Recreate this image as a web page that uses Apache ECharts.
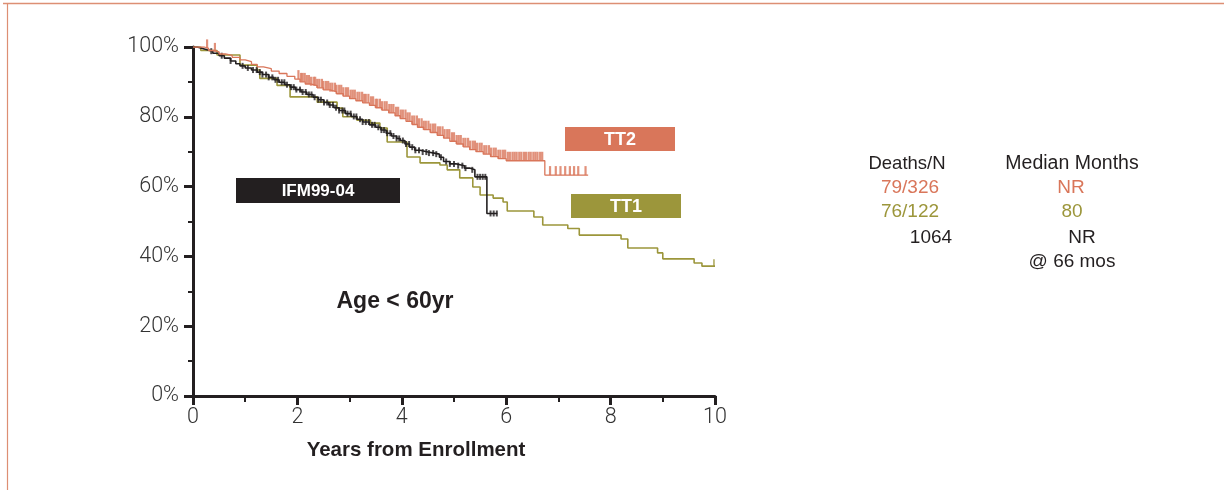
<!DOCTYPE html>
<html><head><meta charset="utf-8">
<script src="https://cdn.jsdelivr.net/npm/echarts@6/dist/echarts.min.js"></script>
<style>html,body{margin:0;padding:0;background:#fff}#c{width:1224px;height:490px}</style>
</head><body><div id="c"></div>
<script>
// ---- data ----
const yTickValues = [0, 20, 40, 60, 80, 100];
const xTickValues = [0, 2, 4, 6, 8, 10];

const tt2Times = [0, 0.22, 0.3, 0.4, 0.5, 0.62, 0.75, 0.9, 1.0, 1.12, 1.23, 1.35, 1.5, 1.65, 1.8, 1.95, 2.05, 2.15, 2.25, 2.38, 2.5, 2.62, 2.75, 2.88, 3.0, 3.12, 3.25, 3.38, 3.5, 3.62, 3.75, 3.87, 3.97, 4.08, 4.2, 4.3, 4.42, 4.55, 4.68, 4.8, 4.92, 5.05, 5.18, 5.3, 5.42, 5.56, 5.7, 5.85, 6.0, 6.74, 7.57];
const tt2Surv  = [100, 99.6, 99.0, 98.6, 98.0, 97.6, 97.0, 96.3, 95.8, 95.0, 94.3, 93.8, 93.1, 92.4, 91.6, 90.8, 90.0, 89.4, 88.9, 88.3, 87.7, 87.2, 86.6, 85.9, 85.2, 84.6, 84.0, 83.3, 82.6, 81.9, 81.1, 80.3, 79.5, 78.7, 77.8, 77.0, 76.3, 75.5, 74.7, 73.9, 73.0, 72.2, 71.4, 70.6, 70.0, 69.3, 68.6, 68.0, 67.4, 63.3, 63.3];
const tt2Censor = [0.27, 0.42, 2.02, 2.07, 2.1, 2.14, 2.18, 2.22, 2.26, 2.31, 2.34, 2.38, 2.42, 2.47, 2.5, 2.55, 2.59, 2.63, 2.67, 2.72, 2.75, 2.8, 2.84, 2.88, 2.93, 2.97, 3.02, 3.06, 3.1, 3.15, 3.19, 3.24, 3.28, 3.31, 3.36, 3.41, 3.45, 3.5, 3.53, 3.58, 3.62, 3.67, 3.71, 3.76, 3.8, 3.84, 3.89, 3.93, 3.98, 4.02, 4.07, 4.11, 4.15, 4.2, 4.24, 4.29, 4.33, 4.38, 4.42, 4.46, 4.51, 4.55, 4.6, 4.64, 4.69, 4.73, 4.78, 4.82, 4.87, 4.91, 4.96, 5.0, 5.05, 5.09, 5.13, 5.18, 5.22, 5.27, 5.31, 5.36, 5.4, 5.44, 5.49, 5.53, 5.58, 5.62, 5.67, 5.71, 5.76, 5.8, 5.85, 5.89, 5.94, 5.98, 6.03, 6.07, 6.12, 6.16, 6.2, 6.25, 6.29, 6.34, 6.38, 6.43, 6.47, 6.52, 6.56, 6.6, 6.65, 6.69, 6.84, 6.95, 7.04, 7.13, 7.22, 7.3, 7.38, 7.52];

const tt1Times = [0, 0.15, 0.46, 0.9, 1.23, 1.28, 1.61, 1.86, 2.38, 2.76, 2.87, 3.14, 3.4, 3.58, 3.72, 4.1, 4.35, 4.73, 4.87, 5.11, 5.36, 5.5, 5.75, 5.94, 6.02, 6.53, 6.7, 7.18, 7.4, 8.2, 8.33, 8.9, 9.0, 9.6, 9.75, 10.0];
const tt1Surv  = [100, 99, 97.7, 94.8, 93.4, 91, 89, 85.7, 84.2, 82.5, 80, 79, 78.2, 76.8, 72.8, 68.5, 66.8, 66.2, 64.8, 62.5, 59.9, 57.6, 56.7, 55.6, 53, 51.3, 49, 48, 46.1, 45, 42.4, 41, 39.3, 38.1, 37.2, 37.2];
const tt1Censor = [9.98];

const ifmTimes = [0, 0.08, 0.18, 0.27, 0.38, 0.5, 0.6, 0.72, 0.82, 0.9, 1.0, 1.12, 1.23, 1.33, 1.45, 1.55, 1.65, 1.76, 1.86, 1.96, 2.07, 2.18, 2.3, 2.4, 2.5, 2.6, 2.7, 2.8, 2.92, 3.03, 3.14, 3.25, 3.38, 3.5, 3.6, 3.7, 3.8, 3.9, 3.97, 4.06, 4.15, 4.25, 4.35, 4.5, 4.62, 4.72, 4.8, 4.92, 5.05, 5.2, 5.3, 5.4, 5.63, 5.83];
const ifmSurv  = [100, 99.6, 99.2, 98.8, 98.2, 97.5, 96.8, 96.0, 95.2, 94.6, 94.0, 93.4, 92.8, 92.1, 91.3, 90.6, 89.9, 89.2, 88.5, 87.8, 87.1, 86.4, 85.6, 84.9, 84.1, 83.4, 82.6, 81.8, 80.9, 80.1, 79.3, 78.5, 77.7, 77.0, 76.2, 75.3, 74.5, 73.8, 73.2, 72.2, 71.3, 70.4, 69.9, 69.6, 69.3, 68.4, 67.2, 66.5, 66.0, 65.3, 64.8, 62.8, 52.3, 52.3];
const ifmCensor = [0.35, 0.55, 0.72, 0.95, 1.05, 1.15, 1.22, 1.28, 1.33, 1.4, 1.45, 1.52, 1.58, 1.63, 1.7, 1.75, 1.8, 1.88, 1.93, 1.98, 2.05, 2.1, 2.16, 2.22, 2.27, 2.33, 2.4, 2.45, 2.51, 2.57, 2.62, 2.68, 2.74, 2.8, 2.86, 2.9, 2.96, 3.02, 3.08, 3.13, 3.2, 3.25, 3.31, 3.37, 3.43, 3.48, 3.55, 3.61, 3.66, 3.72, 3.78, 3.84, 3.9, 3.95, 4.02, 4.08, 4.14, 4.2, 4.26, 4.33, 4.4, 4.47, 4.52, 4.6, 4.66, 4.75, 4.85, 4.92, 5.0, 5.08, 5.16, 5.22, 5.35, 5.45, 5.5, 5.55, 5.6, 5.7, 5.76, 5.82];

const groupNames = ['TT2', 'TT1', 'IFM99-04'];
const deathsN = ['79/326', '76/122', '1064'];
const medianMonths = ['NR', '80', 'NR'];

// ---- helpers ----
function survAt(times, vals, t) {
  let v = vals[0];
  for (let i = 0; i < times.length; i++) { if (times[i] <= t) v = vals[i]; else break; }
  return v;
}
const pairs = (ts, vs) => ts.map((t, i) => [t, vs[i]]);
const censorPts = (cs, ts, vs) => cs.map(t => [t, survAt(ts, vs, t)]);

const C_TT2 = '#d9765a', C_TT1 = '#9c963b', C_IFM = '#231f20';
const FONT = '"Liberation Sans", Arial, sans-serif';
const LIGHT = 'Roboto, "Liberation Sans", Arial, sans-serif';

const chart = echarts.init(document.getElementById('c'), null, {renderer: 'canvas'});

function txt(text, x, y, size, color, weight) {
  return {type: 'text', x: x, y: y, z: 100, style: {text: text, fill: color, font: (weight || 'normal') + ' ' + size + 'px ' + FONT, textAlign: 'center', textVerticalAlign: 'middle', align: 'center', verticalAlign: 'middle'}};
}

const graphics = [
  {type: 'line', shape: {x1: 3, y1: 3.5, x2: 1224, y2: 3.5}, style: {stroke: '#dd8f74', lineWidth: 1.5}},
  {type: 'line', shape: {x1: 7.5, y1: 3, x2: 7.5, y2: 490}, style: {stroke: '#dd8f74', lineWidth: 1.2}},
  {type: 'rect', shape: {x: 236, y: 178, width: 164, height: 25}, style: {fill: C_IFM}, z: 50},
  txt(groupNames[2], 318, 191, 17, '#fff', 'bold'),
  {type: 'rect', shape: {x: 565, y: 127, width: 110, height: 24}, style: {fill: C_TT2}, z: 50},
  txt(groupNames[0], 620, 140, 18, '#fff', 'bold'),
  {type: 'rect', shape: {x: 571, y: 194, width: 110, height: 24}, style: {fill: C_TT1}, z: 50},
  txt(groupNames[1], 626, 207, 18, '#fff', 'bold'),
  txt('Age < 60yr', 395, 302, 23, '#231f20', 'bold'),
  txt('Years from Enrollment', 416, 450, 20.5, '#231f20', 'bold'),
  txt('Deaths/N', 907, 164, 18.5, '#231f20'),
  txt('Median Months', 1072, 164, 19.5, '#231f20'),
  txt(deathsN[0], 910, 188, 19, C_TT2),
  txt(medianMonths[0], 1071, 188, 19, C_TT2),
  txt(deathsN[1], 910, 212, 19, C_TT1),
  txt(medianMonths[1], 1072, 212, 19, C_TT1),
  txt(deathsN[2], 931, 238, 19, '#231f20'),
  txt(medianMonths[2], 1082, 238, 19, '#231f20'),
  txt('@ 66 mos', 1072, 262, 19, '#231f20')
];

const axisCommon = {
  axisLine: {show: true, onZero: false, lineStyle: {color: C_IFM, width: 3}},
  splitLine: {show: false},
  minorSplitLine: {show: false},
  axisLabel: {fontFamily: LIGHT, fontWeight: 300, fontSize: 21.5, color: '#333'}
};

chart.setOption({
  animation: false,
  backgroundColor: '#fff',
  grid: {left: 193, right: 509, top: 47, bottom: 94, containLabel: false},
  xAxis: Object.assign({}, axisCommon, {
    type: 'value', min: 0, max: 10, interval: 2,
    axisTick: {show: true, length: 9, lineStyle: {color: C_IFM, width: 3}},
    minorTick: {show: true, splitNumber: 2, length: 6, lineStyle: {color: C_IFM, width: 2}},
    axisLabel: Object.assign({}, axisCommon.axisLabel, {margin: 11,
      customValues: xTickValues, formatter: v => String(v)})
  }),
  yAxis: Object.assign({}, axisCommon, {
    type: 'value', min: 0, max: 100, interval: 20,
    axisTick: {show: true, length: 9, lineStyle: {color: C_IFM, width: 3}},
    minorTick: {show: true, splitNumber: 2, length: 5, lineStyle: {color: C_IFM, width: 2}},
    axisLabel: Object.assign({}, axisCommon.axisLabel, {margin: 14,
      customValues: yTickValues, formatter: v => v + '%'})
  }),
  graphic: graphics,
  series: [
    {name: 'TT1', type: 'line', step: 'end', data: pairs(tt1Times, tt1Surv), showSymbol: false, z: 2,
     lineStyle: {color: C_TT1, width: 1.6}},
    {name: 'TT1 censored', type: 'scatter', data: censorPts(tt1Censor, tt1Times, tt1Surv), symbol: 'rect',
     symbolSize: [1.6, 7], symbolOffset: [0, '-50%'], itemStyle: {color: C_TT1}, z: 2},
    {name: 'IFM99-04', type: 'line', step: 'end', data: pairs(ifmTimes, ifmSurv), showSymbol: false, z: 3,
     lineStyle: {color: C_IFM, width: 1.6}},
    {name: 'IFM censored', type: 'scatter', data: censorPts(ifmCensor, ifmTimes, ifmSurv), symbol: 'rect',
     symbolSize: [2, 6], itemStyle: {color: C_IFM}, z: 3},
    {name: 'TT2', type: 'line', step: 'end', data: pairs(tt2Times, tt2Surv), showSymbol: false, z: 4,
     lineStyle: {color: C_TT2, width: 1.3}},
    {name: 'TT2 censored', type: 'scatter', data: censorPts(tt2Censor, tt2Times, tt2Surv), symbol: 'rect',
     symbolSize: [2.2, 9], symbolOffset: [0, '-50%'], itemStyle: {color: C_TT2}, z: 4}
  ]
});
</script></body></html>
